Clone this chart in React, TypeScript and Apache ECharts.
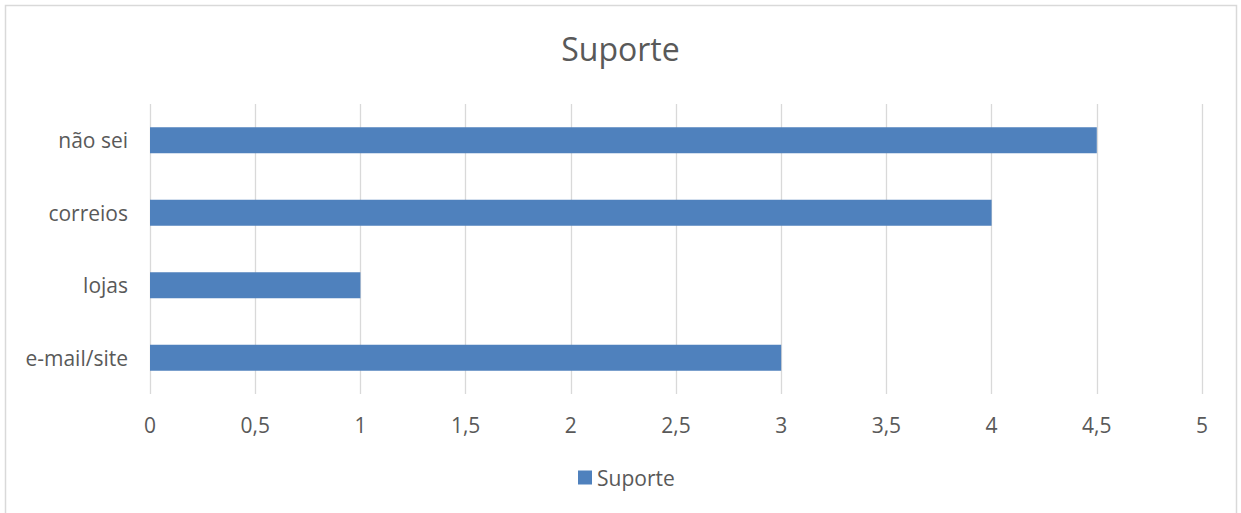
import React, { useEffect, useRef } from "react";
import * as echarts from "echarts";

const categories = ["e-mail/site", "lojas", "correios", "não sei"];
const values = [3, 1, 4, 4.5];
const seriesName = "Suporte";
const titleText = "Suporte";

export default function App() {
  const ref = useRef<HTMLDivElement>(null);
  useEffect(() => {
    if (!ref.current) return;
    const chart = echarts.init(ref.current, undefined, { renderer: "svg" });
    const font = "'Open Sans', Lato, sans-serif";
    chart.setOption({
      animation: false,
      backgroundColor: "#ffffff",
      textStyle: { fontFamily: font },
      title: {
        text: titleText,
        left: "center",
        top: 27,
        textStyle: { fontFamily: font, fontSize: 32, fontWeight: "normal", color: "#595959" },
      },
      graphic: [
        {
          type: "rect",
          shape: { x: 5.5, y: 5.5, width: 1231, height: 520 },
          style: { fill: "none", stroke: "#d9d9d9", lineWidth: 1.5 },
          silent: true,
        },
      ],
      legend: {
        bottom: 20,
        left: 573,
        itemWidth: 14,
        itemHeight: 14,
        icon: "rect",
        itemGap: 5,
        textStyle: { fontFamily: font, fontSize: 21, color: "#595959" },
        data: [seriesName],
      },
      grid: { left: 150, right: 39, top: 104, bottom: 119, containLabel: false },
      xAxis: {
        type: "value",
        min: 0,
        max: 5,
        interval: 0.5,
        axisLine: { show: false },
        axisTick: { show: false },
        splitLine: { show: true, lineStyle: { color: "#d9d9d9", width: 1.3 } },
        axisLabel: {
          fontFamily: font,
          fontSize: 21,
          color: "#595959",
          margin: 20,
          formatter: (v: number) => String(v).replace(".", ","),
        },
      },
      yAxis: {
        type: "category",
        data: categories,
        axisLine: { show: false },
        axisTick: { show: false },
        axisLabel: { fontFamily: font, fontSize: 21, color: "#595959", margin: 22 },
      },
      series: [
        {
          name: seriesName,
          type: "bar",
          data: values,
          barWidth: 26,
          itemStyle: { color: "#4f81bd" },
        },
      ],
    });
    return () => chart.dispose();
  }, []);
  return (
    <div
      ref={ref}
      style={{ position: "absolute", left: 0, top: 0, width: 1241, height: 513 }}
    />
  );
}
